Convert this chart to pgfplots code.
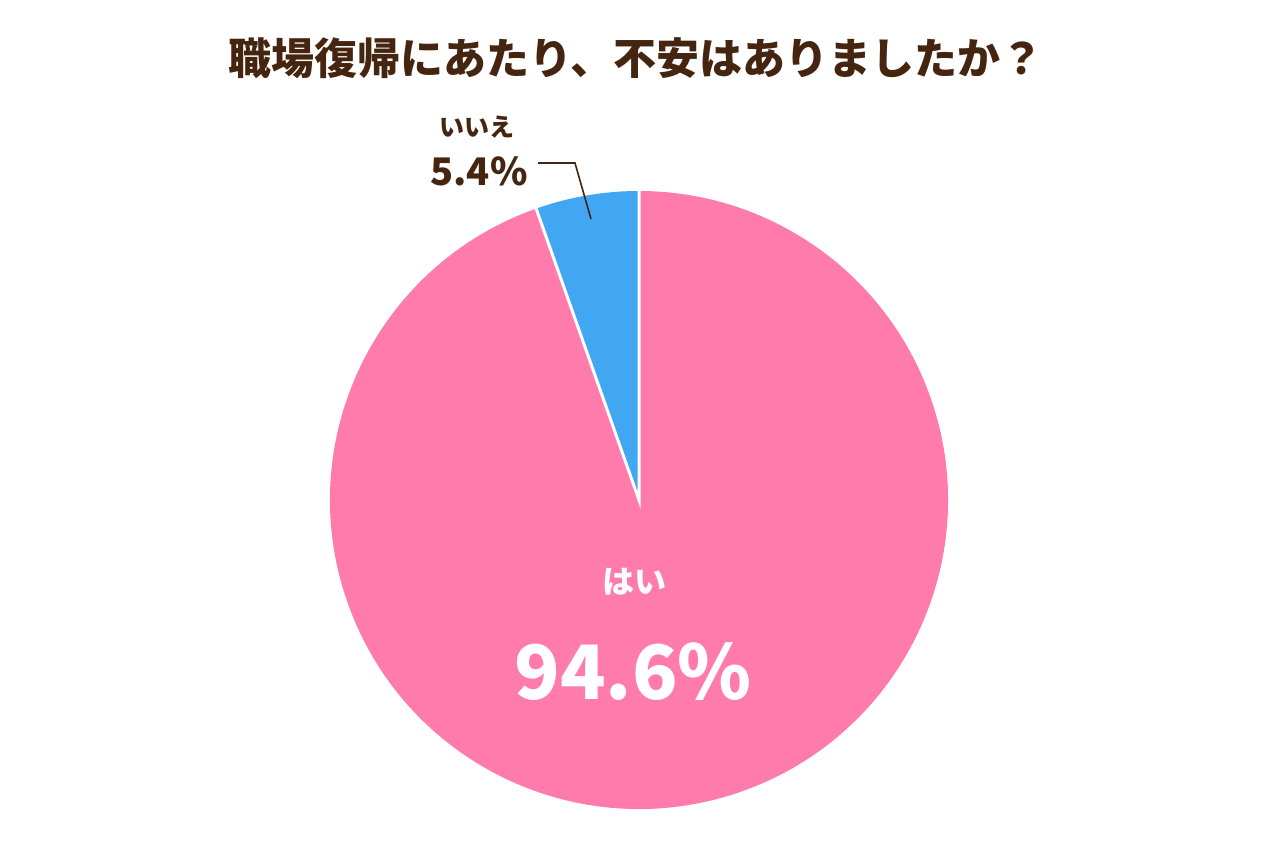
\documentclass[border=0pt]{standalone}
\usepackage{pgfplots}
\pgfplotsset{compat=1.18}
\usepackage{fontspec}
\newfontfamily\jp{Noto Sans CJK JP}
\definecolor{pieyes}{HTML}{FF7BAC}
\definecolor{pieno}{HTML}{42A7F2}
\definecolor{txtbrown}{HTML}{45250F}

% share of each answer, in percent
\def\valYes{94.6}
\def\valNo{5.4}

\begin{document}
\begin{tikzpicture}
  \begin{axis}[
      x=1pt, y=1pt,
      xmin=0, xmax=1280, ymin=0, ymax=840,
      hide axis, clip=false,
      scale only axis,
    ]
    \path[fill=white] (axis cs:0,0) rectangle (axis cs:1280,840);
    % slices, starting at the top and running counterclockwise
    \pgfmathsetmacro{\aA}{90}
    \pgfmathsetmacro{\aB}{90+3.6*\valNo}
    \pgfmathsetmacro{\aC}{\aB+3.6*\valYes}
    \fill[pieno] (axis cs:639,340) -- (axis cs:{639+309*cos(\aA)},{340+309*sin(\aA)})
      arc[start angle=\aA, end angle=\aB, radius=309pt] -- cycle;
    \fill[pieyes] (axis cs:639,340) -- (axis cs:{639+309*cos(\aB)},{340+309*sin(\aB)})
      arc[start angle=\aB, end angle=\aC, radius=309pt] -- cycle;
    \draw[white, line width=3pt] (axis cs:{639+309*cos(\aA)},{340+309*sin(\aA)}) -- (axis cs:639,340)
      -- (axis cs:{639+309*cos(\aB)},{340+309*sin(\aB)});
    % title
    \node[txtbrown, font=\jp\bfseries\fontsize{43}{46}\selectfont]
      at (axis cs:636,782) {職場復帰にあたり、不安はありましたか？};
    % small slice label with leader
    \node[txtbrown, font=\jp\bfseries\fontsize{25}{28}\selectfont]
      at (axis cs:477,713) {いいえ};
    \node[txtbrown, font=\jp\bfseries\fontsize{38}{42}\selectfont]
      at (axis cs:479,669) {\valNo\%};
    \draw[txtbrown, line width=1.6pt] (axis cs:538,677) -- (axis cs:575,677) -- (axis cs:591,621);
    % large slice label
    \node[white, font=\jp\bfseries\fontsize{32}{34}\selectfont]
      at (axis cs:634,258) {はい};
    \node[white, font=\jp\bfseries\fontsize{75}{80}\selectfont]
      at (axis cs:633,168) {\valYes\%};
  \end{axis}
\end{tikzpicture}
\end{document}
